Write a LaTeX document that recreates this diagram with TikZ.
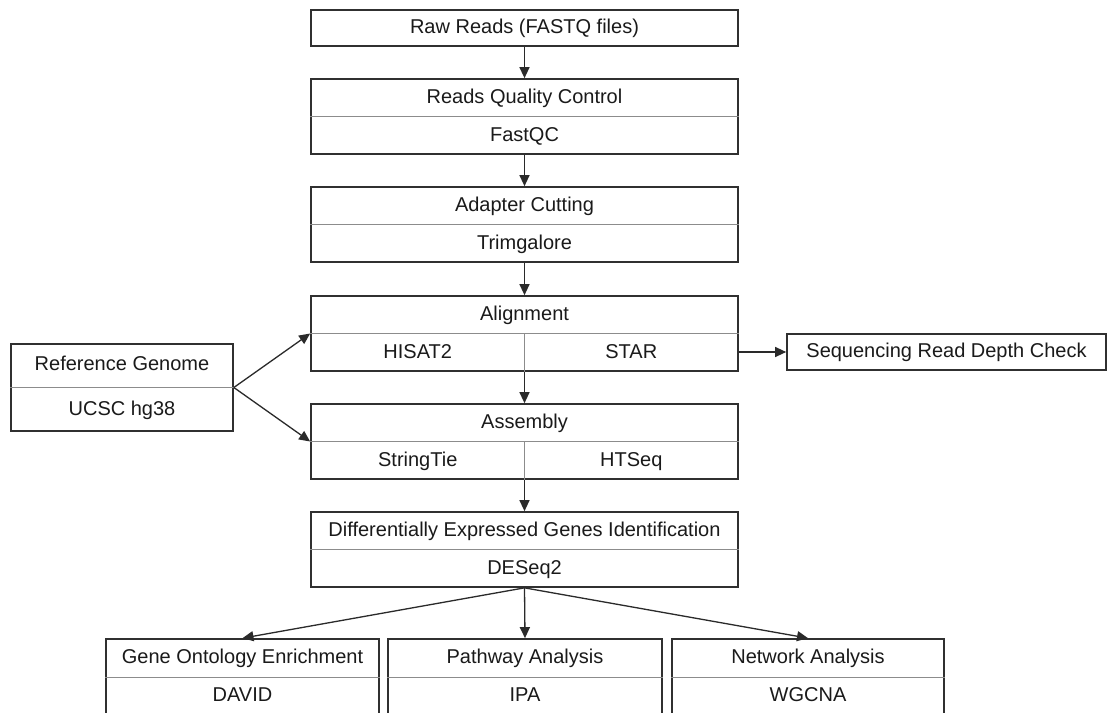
\documentclass[tikz,border=0pt]{standalone}
\usepackage{fontspec}
\setmainfont{Liberation Sans}
\usetikzlibrary{arrows.meta,calc}
\definecolor{bc}{HTML}{303030}
\definecolor{dc}{HTML}{8C8C8C}
\definecolor{tc}{HTML}{1A1A1A}
\definecolor{ac}{HTML}{2A2A2A}
\tikzset{
  box/.style 2 args={draw=bc, line width=1.7pt, minimum width=#1, minimum height=#2, inner sep=0pt, fill=white},
  lbl/.style={inner sep=0pt, font=\fontsize{20}{24}\selectfont, text=tc, text height=15pt, text depth=3.3pt},
  div/.style={draw=dc, line width=1pt},
  arr/.style={draw=ac, line width=1.3pt, -{Triangle[length=11pt,width=10pt]}},
}
\begin{document}
\begin{tikzpicture}[x=1pt,y=-1pt]
\useasboundingbox (0,0) rectangle (1116,712);
\clip (0,0) rectangle (1116,712);
\fill[white] (0,0) rectangle (1116,712);

% single boxes
\node[box={427pt}{36pt}] (raw) at (524.5,28) {};
\node[lbl] (rawT) at (raw.center) {Raw Reads (FASTQ files)};

\node[box={319pt}{36pt}] (srd) at (946.5,352) {};
\node[lbl] (srdT) at (srd.center) {Sequencing Read Depth Check};

% two-part boxes
\node[box={427pt}{75pt}] (qc) at (524.5,116.5) {};
\node[box={427pt}{75pt}] (adapt) at (524.5,224.5) {};
\node[box={427pt}{75pt}] (align) at (524.5,333.5) {};
\node[box={427pt}{75pt}] (assem) at (524.5,441.5) {};
\node[box={427pt}{75pt}] (deg) at (524.5,549.5) {};
\node[box={222pt}{87pt}] (ref) at (122,387.5) {};
\node[box={273pt}{76pt}] (go) at (242.5,677) {};
\node[box={274pt}{76pt}] (path) at (525,677) {};
\node[box={272pt}{76pt}] (net) at (808,677) {};

% dividers
\foreach \b in {qc,adapt,align,assem,deg,ref,go,path,net}{
  \draw[div] (\b.west) -- (\b.east);
}
\draw[div] (align.center) -- (align.south);
\draw[div] (assem.center) -- (assem.south);

% labels
\node[lbl] (qcT) at ($(qc.center)+(0,-18.75)$) {Reads Quality Control};
\node[lbl] (qcS) at ($(qc.center)+(0,18.75)$) {FastQC};
\node[lbl] (adT) at ($(adapt.center)+(0,-18.75)$) {Adapter Cutting};
\node[lbl] (adS) at ($(adapt.center)+(0,18.75)$) {Trimgalore};
\node[lbl] (alT) at ($(align.center)+(0,-18.75)$) {Alignment};
\node[lbl] (alS1) at ($(align.center)+(-106.75,18.75)$) {HISAT2};
\node[lbl] (alS2) at ($(align.center)+(106.75,18.75)$) {STAR};
\node[lbl] (asT) at ($(assem.center)+(0,-18.75)$) {Assembly};
\node[lbl] (asS1) at ($(assem.center)+(-106.75,18.75)$) {StringTie};
\node[lbl] (asS2) at ($(assem.center)+(106.75,18.75)$) {HTSeq};
\node[lbl] (dgT) at ($(deg.center)+(0,-18.75)$) {Differentially Expressed Genes Identification};
\node[lbl] (dgS) at ($(deg.center)+(0,18.75)$) {DESeq2};
\node[lbl] (rfT) at ($(ref.center)+(0,-22.5)$) {Reference Genome};
\node[lbl] (rfS) at ($(ref.center)+(0,22.5)$) {UCSC hg38};
\node[lbl] (goT) at ($(go.center)+(0,-19)$) {Gene Ontology Enrichment};
\node[lbl] (goS) at ($(go.center)+(0,19)$) {DAVID};
\node[lbl] (paT) at ($(path.center)+(0,-19)$) {Pathway Analysis};
\node[lbl] (paS) at ($(path.center)+(0,19)$) {IPA};
\node[lbl] (neT) at ($(net.center)+(0,-19)$) {Network Analysis};
\node[lbl] (neS) at ($(net.center)+(0,19)$) {WGCNA};

% connectors
\draw[arr] (raw.south) -- (qc.north);
\draw[arr] (qc.south) -- (adapt.north);
\draw[arr] (adapt.south) -- (align.north);
\draw[arr] (align.south) -- (assem.north);
\draw[arr] (assem.south) -- (deg.north);
\draw[arr] (ref.east) -- (align.west);
\draw[arr] (ref.east) -- (assem.west);
\draw[arr] (align.east |- srd.west) -- (srd.west);
\draw[arr] (deg.south) -- (go.north);
\draw[arr] (deg.south) -- (path.north);
\draw[arr] (deg.south) -- (net.north);
\end{tikzpicture}
\end{document}
